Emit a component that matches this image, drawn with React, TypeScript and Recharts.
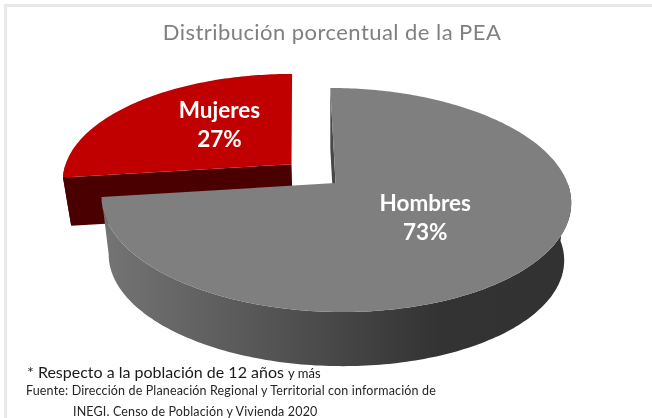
import React from 'react';
import { PieChart, Pie } from 'recharts';

const NAMES = ['Mujeres', 'Hombres'];
const VALUES = [27, 73];
const TOP_COLORS = ['#c00000', '#7f7f7f'];
const TITLE = 'Distribución porcentual de la PEA';
const NOTE = '* Respecto a la población de 12 años';
const NOTE_SMALL = 'y más';
const SOURCE_1 = 'Fuente: Dirección de Planeación Regional y Territorial con información de';
const SOURCE_2 = 'INEGI. Censo de Población y Vivienda 2020';

const data = NAMES.map((name, i) => ({ name, value: VALUES[i], fill: TOP_COLORS[i] }));

const FONT = 'Lato, "Open Sans", sans-serif';
const RAD = Math.PI / 180;

// fake 3D: the pie plane goes through a small perspective divide
const PERSPECTIVE = 0.152;
const SQUASH = 0.4716;
const SHEAR = -6;
const EXPLODE = [{ u: -0.19, v: 0.175 }, { u: 0, v: 0 }];
const LABEL_RADIUS = [0.445, 0.48];
const LABEL_NUDGE = [-10, -1];
const DEPTH = [48, 58];
const BASE_SCALE = 0.97;

type Pt = [number, number];

const project = (cx: number, cy: number, r: number, u: number, v: number, scale = 1, drop = 0): Pt => {
  const d = 1 + PERSPECTIVE * v;
  return [
    cx + (r * scale * u + SHEAR * v) / d,
    cy + drop - (r * SQUASH * scale * v) / d,
  ];
};

const toPath = (pts: Pt[]) =>
  pts.map((p, i) => `${i === 0 ? 'M' : 'L'}${p[0].toFixed(1)},${p[1].toFixed(1)}`).join(' ') + ' Z';

const Slice3D = (props: any) => {
  const { cx, cy, outerRadius, startAngle, endAngle, index, fill } = props;
  const off = EXPLODE[index];
  const drop = DEPTH[index];
  const angles: number[] = [];
  const steps = Math.ceil(Math.abs(startAngle - endAngle));
  for (let i = 0; i <= steps; i++) angles.push(startAngle + ((endAngle - startAngle) * i) / steps);

  const top = (a: number) =>
    project(cx, cy, outerRadius, Math.cos(a * RAD) + off.u, Math.sin(a * RAD) + off.v);
  const base = (a: number) =>
    project(cx, cy, outerRadius, Math.cos(a * RAD) + off.u, Math.sin(a * RAD) + off.v, BASE_SCALE, drop);
  const apexTop = project(cx, cy, outerRadius, off.u, off.v);
  const apexBase = project(cx, cy, outerRadius, off.u, off.v, BASE_SCALE, drop);

  const front = angles.filter((a) => Math.sin(a * RAD) <= 0.01);
  const wallFill = index === 0 ? '#4a0000' : 'url(#wallGray)';

  return (
    <g>
      <defs>
        <linearGradient id="wallGray" gradientUnits="userSpaceOnUse" x1={100} y1={0} x2={570} y2={0}>
          <stop offset="0" stopColor="#757575" />
          <stop offset="0.3" stopColor="#5a5a5a" />
          <stop offset="0.6" stopColor="#3e3e3e" />
          <stop offset="0.72" stopColor="#333333" />
          <stop offset="1" stopColor="#323232" />
        </linearGradient>
      </defs>
      <path d={toPath([top(startAngle), apexTop, apexBase, base(startAngle)])} fill={wallFill} />
      {front.length > 1 && (
        <path d={toPath([...front.map(top), ...front.slice().reverse().map(base)])} fill={wallFill} />
      )}
      <path d={toPath([apexTop, ...angles.map(top)])} fill={fill} />
    </g>
  );
};

const renderLabel = (props: any) => {
  const { cx, cy, outerRadius, midAngle, index, name, value } = props;
  const off = EXPLODE[index];
  const k = LABEL_RADIUS[index];
  const [x, y] = project(
    cx, cy, outerRadius,
    Math.cos(midAngle * RAD) * k + off.u,
    Math.sin(midAngle * RAD) * k + off.v,
  );
  return (
    <text x={x} y={y + LABEL_NUDGE[index]} textAnchor="middle" fill="#ffffff" fontFamily={FONT} fontWeight={700} fontSize={22.5}>
      <tspan x={x} dy={-7}>{name}</tspan>
      <tspan x={x} dy={29}>{`${value}%`}</tspan>
    </text>
  );
};

const App: React.FC = () => (
  <div style={{ position: 'absolute', left: 0, top: 0, width: 652, height: 418, background: '#fff', overflow: 'hidden', fontFamily: FONT, filter: 'blur(0.4px)' }}>
    <div style={{ position: 'absolute', left: 4, top: 4, width: 648, height: 3, background: '#e9e9e9' }} />
    <div style={{ position: 'absolute', left: 4, top: 4, width: 3, height: 414, background: '#e9e9e9' }} />
    <PieChart width={652} height={418} margin={{ top: 0, right: 0, bottom: 0, left: 0 }}>
      <Pie
        data={data}
        dataKey="value"
        nameKey="name"
        cx={335.5}
        cy={183}
        outerRadius={232}
        startAngle={187.2}
        endAngle={-172.8}
        stroke="none"
        shape={Slice3D}
        label={renderLabel}
        labelLine={false}
        isAnimationActive={false}
      />
    </PieChart>
    <div style={{ position: 'absolute', left: 0, width: 664, top: 18, textAlign: 'center', fontSize: 22, color: '#808080', letterSpacing: 0.45, whiteSpace: 'nowrap' }}>
      {TITLE}
    </div>
    <div style={{ position: 'absolute', left: 27, top: 364, fontSize: 16, lineHeight: '16px', color: '#1a1a1a', whiteSpace: 'nowrap' }}>
      {NOTE} <span style={{ fontSize: 13 }}>{NOTE_SMALL}</span>
    </div>
    <div style={{ position: 'absolute', left: 26, top: 384, fontSize: 12.5, lineHeight: '13px', letterSpacing: 0.15, color: '#262626', whiteSpace: 'nowrap' }}>
      {SOURCE_1}
    </div>
    <div style={{ position: 'absolute', left: 73, top: 405, fontSize: 12.5, lineHeight: '13px', letterSpacing: 0.15, color: '#262626', whiteSpace: 'nowrap' }}>
      {SOURCE_2}
    </div>
  </div>
);

export default App;
